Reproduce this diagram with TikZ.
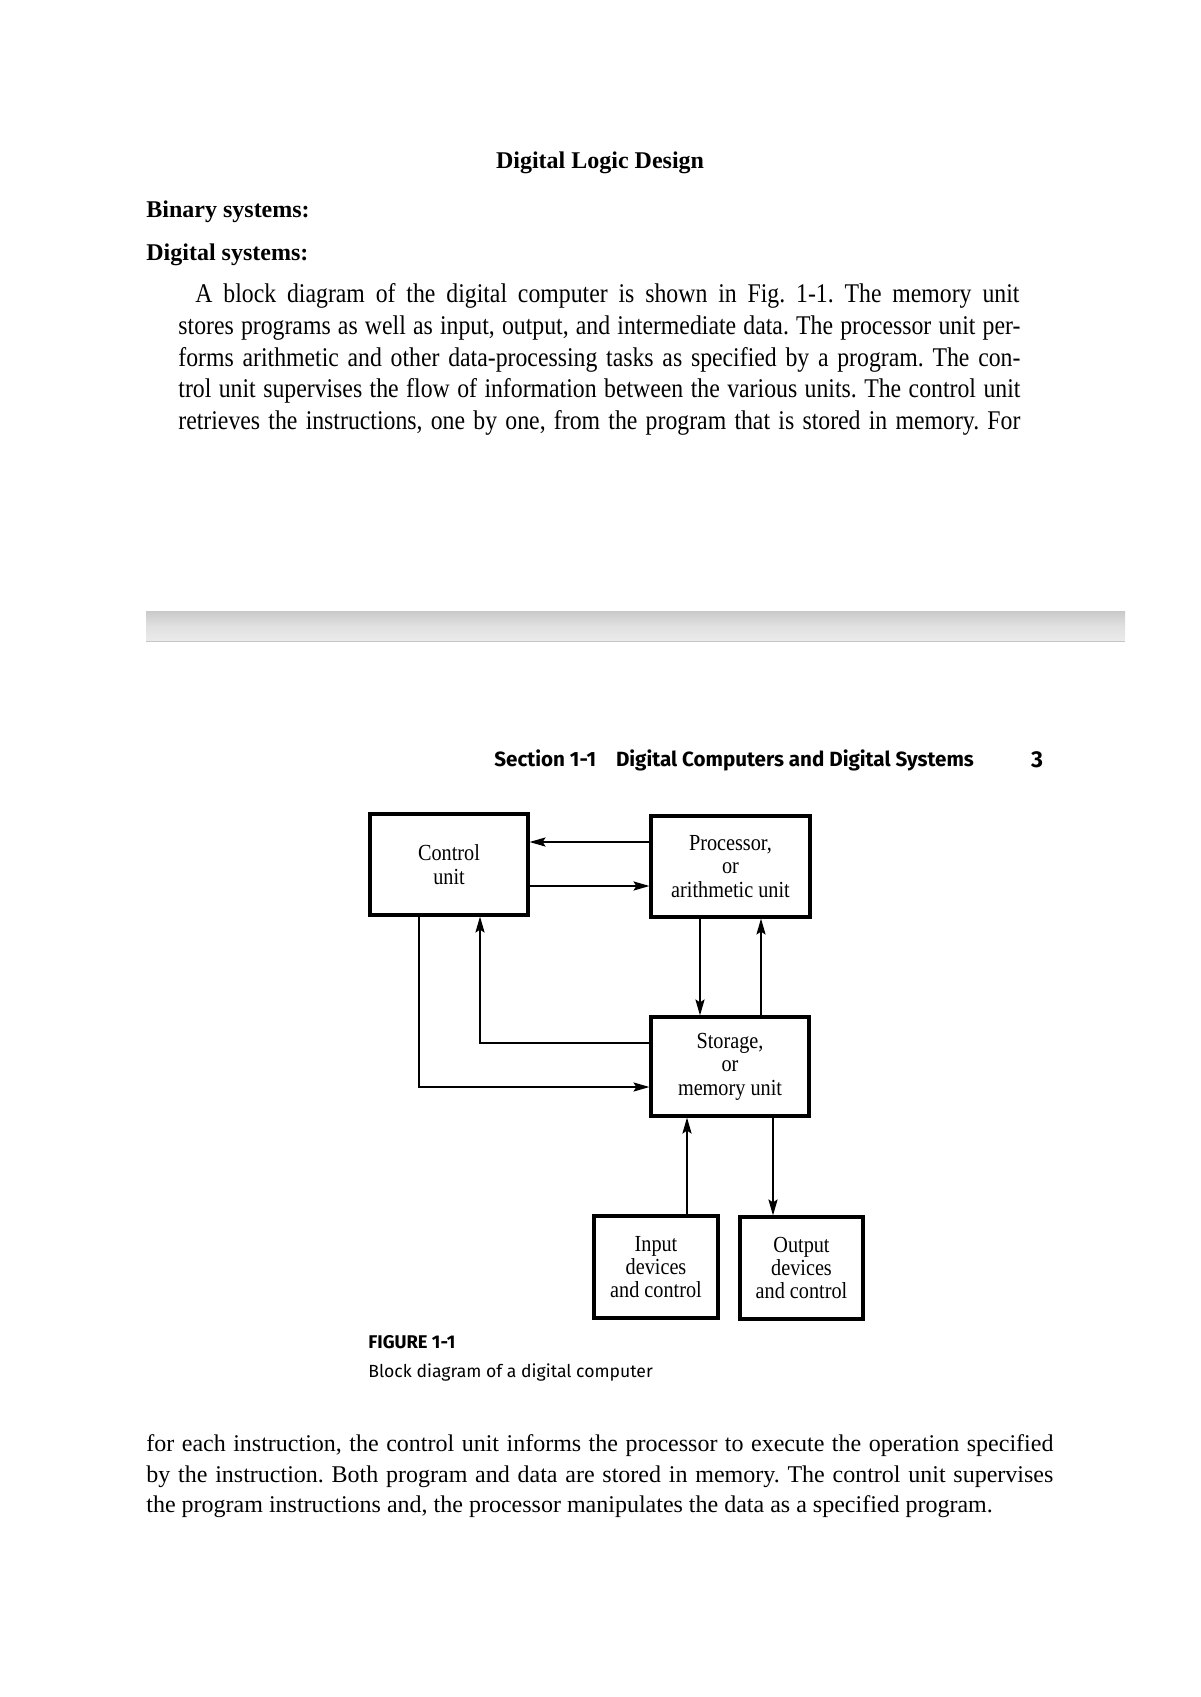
\documentclass[tikz,border=0pt]{standalone}
\usepackage{fontspec}
\setmainfont{Liberation Serif}
\newfontfamily\scanfont[FakeStretch=0.88]{Liberation Serif}
\newfontfamily\hdrfont{Fira Sans}
\usetikzlibrary{arrows.meta,calc}
\frenchspacing
\begin{document}
\begin{tikzpicture}[x=0.5pt,y=-0.5pt,
  txt/.style={inner sep=0pt, anchor=west, font=\fontsize{12}{14}\selectfont},
  scan/.style={inner sep=0pt, anchor=west, font=\scanfont\fontsize{13.5}{15}\selectfont},
  blk/.style={draw, line width=1.6pt, inner sep=0pt, align=center,
    font=\scanfont\fontsize{11.5}{11.7}\selectfont},
  arr/.style={line width=0.7pt, -{Stealth[length=8pt,width=4.6pt,inset=1.5pt]}},
  hdr/.style={inner sep=0pt, anchor=west, font=\hdrfont\bfseries\fontsize{10.3}{11}\selectfont}
]
\useasboundingbox (0,0) rectangle (1200,1697);
\fill[white] (0,0) rectangle (1200,1697);

% header texts
\node[inner sep=0pt, font=\bfseries\fontsize{12}{14}\selectfont] (title) at (600,163) {Digital Logic Design};
\node[txt, font=\bfseries\fontsize{12}{14}\selectfont] (bin) at (146,212) {Binary systems:};
\node[txt, font=\bfseries\fontsize{12}{14}\selectfont] (dig) at (146,255) {Digital systems:};

% scanned paragraph
\node[scan] (p1) at (195,296) {\makebox[412pt][s]{A block diagram of the digital computer is shown in Fig. 1-1. The memory unit}};
\node[scan] (p2) at (178,328) {\makebox[421pt][s]{stores programs as well as input, output, and intermediate data. The processor unit per-}};
\node[scan] (p3) at (178,360) {\makebox[421pt][s]{forms arithmetic and other data-processing tasks as specified by a program. The con-}};
\node[scan] (p4) at (178,391) {\makebox[421pt][s]{trol unit supervises the flow of information between the various units. The control unit}};
\node[scan] (p5) at (178,423) {\makebox[421pt][s]{retrieves the instructions, one by one, from the program that is stored in memory. For}};

% gray bar
\shade[top color=gray!42, bottom color=gray!16, middle color=gray!24] (146,611) rectangle (1125,641);
\draw[gray!45, line width=0.4pt] (146,641) -- (1125,641);

% section header
\node[hdr] (sec) at (494,760) {Section 1-1\hspace{10pt}Digital Computers and Digital Systems};
\node[inner sep=0pt, font=\hdrfont\bfseries\fontsize{11.5}{12}\selectfont] (pg) at (1037,760) {3};

% blocks
\node[blk, minimum width=79pt, minimum height=50.5pt] (ctrl) at (449,864.5) {Control\\unit};
\node[blk, minimum width=79.5pt, minimum height=50.5pt] (proc) at (730.5,866.5) {Processor,\\or\\arithmetic unit};
\node[blk, minimum width=79pt, minimum height=49.5pt] (stor) at (730,1066.5) {Storage,\\or\\memory unit};
\node[blk, minimum width=62pt, minimum height=51pt] (inp) at (656,1267) {Input\\devices\\and control};
\node[blk, minimum width=61.5pt, minimum height=51pt] (outp) at (801.5,1268) {Output\\devices\\and control};

% connectors
\draw[arr] (proc.west |- 0,842) -- (ctrl.east |- 0,842);
\draw[arr] (ctrl.east |- 0,886) -- (proc.west |- 0,886);
\draw[arr] (proc.south -| 700,0) -- (stor.north -| 700,0);
\draw[arr] (stor.north -| 761,0) -- (proc.south -| 761,0);
\draw[arr] (stor.west |- 0,1043) -- (480,1043) -- (ctrl.south -| 480,0);
\draw[arr] (ctrl.south -| 419,0) -- (419,1087) -- (stor.west |- 0,1087);
\draw[arr] (inp.north -| 687,0) -- (stor.south -| 687,0);
\draw[arr] (stor.south -| 773,0) -- (outp.north -| 773,0);

% figure caption
\node[inner sep=0pt, anchor=west, font=\hdrfont\bfseries\fontsize{9.2}{11}\selectfont] (figl) at (368,1342) {FIGURE 1-1};
\node[inner sep=0pt, anchor=west, font=\hdrfont\fontsize{8.8}{11}\selectfont] (figc) at (368,1372) {Block diagram of a digital computer};

% bottom paragraph
\node[txt] (q1) at (146,1446) {\makebox[453.5pt][s]{for each instruction, the control unit informs the processor to execute the operation specified}};
\node[txt] (q2) at (146,1477) {\makebox[453.5pt][s]{by the instruction. Both program and data are stored in memory. The control unit supervises}};
\node[txt] (q3) at (146,1507) {the program instructions and, the processor manipulates the data as a specified program.};
\end{tikzpicture}
\end{document}
